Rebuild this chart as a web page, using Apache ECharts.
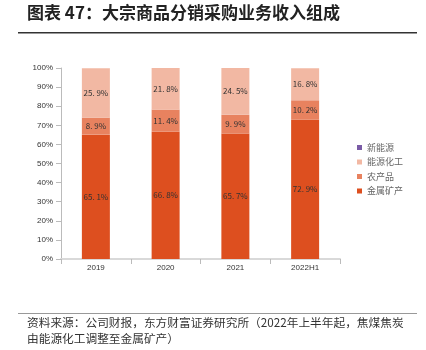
<!DOCTYPE html>
<html><head><meta charset="utf-8">
<script src="https://cdn.jsdelivr.net/npm/echarts@6/dist/echarts.min.js"></script>
<style>html,body{margin:0;padding:0;background:#fff}#c{width:426px;height:350px}</style>
</head><body><div id="c"></div>
<script>
const categories = ['2019', '2020', '2021', '2022H1'];
const metal = [65.1, 66.8, 65.7, 72.9];
const agri = [8.9, 11.4, 9.9, 10.2];
const energyChem = [25.9, 21.8, 24.5, 16.8];
const newEnergy = [0, 0, 0, 0];
const yTicks = [0, 10, 20, 30, 40, 50, 60, 70, 80, 90, 100];

const fmt = v => { const s = v.toFixed(1).split('.'); return s[0] + '. ' + s[1] + '%'; };
const font = '"Noto Sans CJK SC", "Liberation Sans", sans-serif';
const chart = echarts.init(document.getElementById('c'));
const lbl = { show: true, position: 'inside', fontSize: 8, color: '#333', fontFamily: font, formatter: p => p.value > 0 ? fmt(p.value) : '' };
chart.setOption({
  animation: false,
  grid: { left: 61, right: 86, top: 68, bottom: 91 },
  legend: {
    data: ['新能源', '能源化工', '农产品', '金属矿产'],
    orient: 'vertical', left: 352, top: 138, itemWidth: 5, itemHeight: 5, itemGap: 5.5,
    icon: 'rect', textStyle: { fontSize: 9, color: '#666', fontFamily: font }
  },
  xAxis: {
    type: 'category', data: categories,
    axisLine: { lineStyle: { color: '#d9d9d9', width: 2 } },
    axisTick: { show: true, lineStyle: { color: '#bbb' } },
    axisLabel: { fontSize: 8, color: '#333', fontFamily: '"Liberation Sans", sans-serif', margin: 5 }
  },
  yAxis: {
    type: 'value', min: 0, max: 100, interval: 10,
    splitLine: { show: false },
    axisLine: { show: true, lineStyle: { color: '#bbb' } },
    axisTick: { show: true, lineStyle: { color: '#bbb' } },
    axisLabel: { fontSize: 8, color: '#333', fontFamily: '"Liberation Sans", sans-serif', formatter: v => yTicks.includes(v) ? v + '%' : '' }
  },
  series: [
    { name: '金属矿产', type: 'bar', stack: 's', barWidth: 28, data: metal, itemStyle: { color: '#DD4F1F' }, label: lbl },
    { name: '农产品', type: 'bar', stack: 's', data: agri, itemStyle: { color: '#E8825F' }, label: lbl },
    { name: '能源化工', type: 'bar', stack: 's', data: energyChem, itemStyle: { color: '#F2B8A3' }, label: lbl },
    { name: '新能源', type: 'bar', stack: 's', data: newEnergy, itemStyle: { color: '#7A5BA6' }, label: { show: false } }
  ],
  graphic: [
    { type: 'text', left: 27, top: 4, style: { text: '图表 47：大宗商品分销采购业务收入组成', font: 'bold 17px "Noto Sans CJK SC"', fill: '#222' } },
    { type: 'rect', shape: { x: 18, y: 32, width: 399, height: 1.5 }, style: { fill: '#333' } },
    { type: 'rect', shape: { x: 18, y: 313, width: 399, height: 1 }, style: { fill: '#999' } },
    { type: 'text', left: 27, top: 317, style: { text: '资料来源：公司财报，东方财富证券研究所（2022年上半年起，焦煤焦炭', font: '11.7px "Noto Sans CJK SC"', fill: '#333' } },
    { type: 'text', left: 27, top: 333, style: { text: '由能源化工调整至金属矿产）', font: '11.7px "Noto Sans CJK SC"', fill: '#333' } }
  ]
});
</script></body></html>
